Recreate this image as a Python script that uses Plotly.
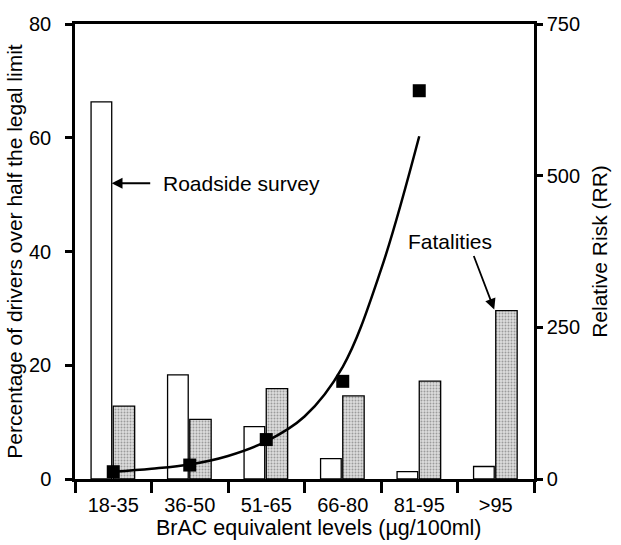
import plotly.graph_objects as go

categories = ["18-35", "36-50", "51-65", "66-80", "81-95", ">95"]
roadside = [66.3, 18.3, 9.2, 3.6, 1.3, 2.2]
fatalities = [12.8, 10.5, 15.9, 14.6, 17.2, 29.6]
rr_points = [12, 23, 65, 161, 640]
rr_curve_x = [0, 0.5, 1, 1.5, 2, 2.5, 3, 3.5, 4]
rr_curve_y = [12, 17, 24, 38, 62, 103, 185, 345, 565]

FONT = "Liberation Sans, Arial, Helvetica, sans-serif"
idx = list(range(len(categories)))

fig = go.Figure()
fig.add_trace(go.Bar(
    x=idx, y=roadside, offset=-0.29, width=0.27,
    marker=dict(color="white", line=dict(color="black", width=1.3)),
    showlegend=False, xaxis="x", yaxis="y"))
fig.add_trace(go.Bar(
    x=idx, y=fatalities, offset=0.0, width=0.28,
    marker=dict(color="#d0d0d0", line=dict(color="black", width=1.3),
                pattern=dict(shape=".", fgcolor="#5a5a5a", bgcolor="#dddddd",
                             size=3, solidity=0.33)),
    showlegend=False, xaxis="x", yaxis="y"))
fig.add_trace(go.Scatter(
    x=rr_curve_x, y=rr_curve_y, mode="lines", line=dict(color="black", width=2.5, shape="spline"),
    showlegend=False, xaxis="x", yaxis="y2"))
fig.add_trace(go.Scatter(
    x=idx[:len(rr_points)], y=rr_points, mode="markers",
    marker=dict(symbol="square", size=13, color="black"),
    showlegend=False, xaxis="x", yaxis="y2"))
# invisible trace that activates the labelled category axis
fig.add_trace(go.Scatter(x=[0], y=[0], xaxis="x2", yaxis="y", mode="markers",
                         marker=dict(opacity=0), hoverinfo="skip", showlegend=False))

fig.update_layout(
    width=621, height=545,
    margin=dict(l=75, r=82, t=24, b=66),
    paper_bgcolor="white", plot_bgcolor="white",
    font=dict(family=FONT, size=20, color="black"),
    barmode="overlay",
    xaxis=dict(
        range=[-0.5, 5.5], tickmode="array", tickvals=[i + 0.5 for i in range(-1, 6)],
        ticktext=[""] * 7, ticks="outside", ticklen=11, tickwidth=2.5, tickcolor="black",
        showline=True, linewidth=2.5, linecolor="black", mirror=True,
        showgrid=False, zeroline=False,
    ),
    xaxis2=dict(
        range=[-0.5, 5.5], overlaying="x", side="bottom", anchor="y",
        tickmode="array", tickvals=idx, ticktext=categories, ticks="", showline=False,
        showgrid=False, zeroline=False, tickfont=dict(size=20), ticklabelstandoff=12,
    ),
    yaxis=dict(
        range=[0, 80], tickvals=[0, 20, 40, 60, 80], ticks="outside", ticklen=7, tickwidth=2.5,
        tickcolor="black", showline=True, linewidth=2.5, linecolor="black",
        showgrid=False, zeroline=False, ticklabelstandoff=10, tickfont=dict(size=20),
        title=dict(text="Percentage of drivers over half the legal limit", font=dict(size=21), standoff=1),
    ),
    yaxis2=dict(
        range=[0, 750], tickvals=[0, 250, 500, 750], overlaying="y", side="right", anchor="x",
        ticks="outside", ticklen=6, tickwidth=2.5, tickcolor="black", tickfont=dict(size=20),
        showline=True, linewidth=2.5, linecolor="black", showgrid=False, zeroline=False,
        title=dict(text="Relative Risk (RR)", font=dict(size=21), standoff=14),
    ),
    annotations=[
        dict(x=0.531, y=0, xref="paper", yref="paper", yshift=-49, text="BrAC equivalent levels (µg/100ml)",
             showarrow=False, xanchor="center", yanchor="middle", font=dict(size=21.5)),
        dict(x=-0.02, y=52, xref="x", yref="y", text="", showarrow=True, arrowhead=2,
             arrowsize=1.2, arrowwidth=1.8, arrowcolor="black", ax=40, ay=0),
        dict(x=0.62, y=52, xref="x", yref="y", text="Roadside survey", showarrow=False,
             xanchor="left", yanchor="middle", font=dict(size=21)),
        dict(x=4.98, y=29.8, xref="x", yref="y", text="", showarrow=True, arrowhead=2,
             arrowsize=1.2, arrowwidth=1.8, arrowcolor="black", ax=-21, ay=-55),
        dict(x=4.4, y=41.7, xref="x", yref="y", text="Fatalities", showarrow=False,
             xanchor="center", yanchor="middle", font=dict(size=21)),
    ],
)

fig.write_html("out.html")
